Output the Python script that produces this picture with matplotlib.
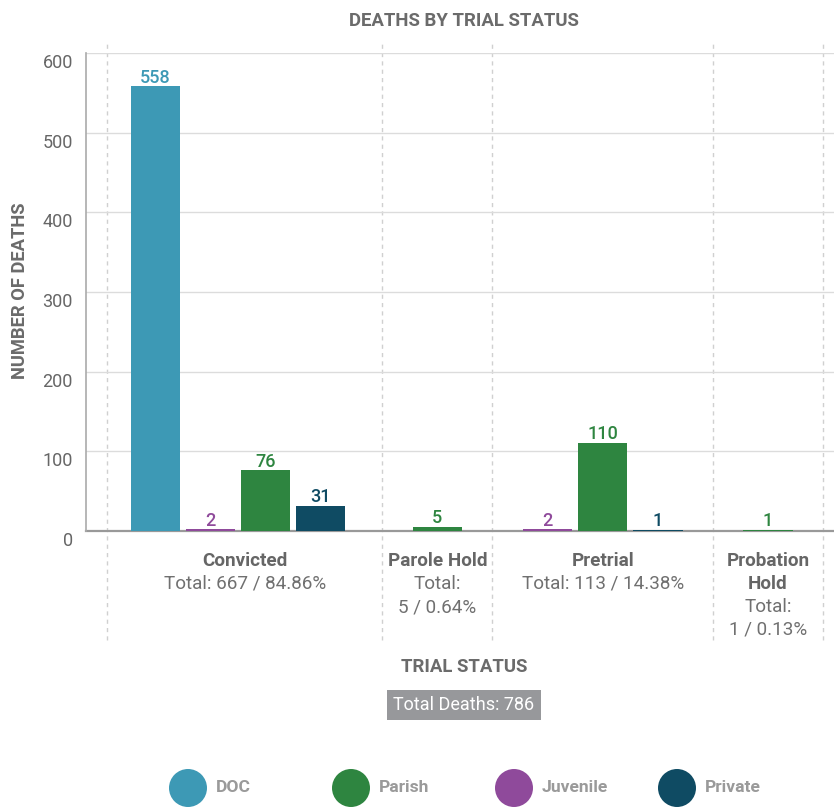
import matplotlib
matplotlib.use("Agg")
import matplotlib.pyplot as plt
from matplotlib.patches import Ellipse
from matplotlib.transforms import ScaledTranslation, blended_transform_factory
from matplotlib.font_manager import FontProperties

plt.rcParams['font.family'] = ['Roboto', 'DejaVu Sans']

# ---- data ----
categories = ["Convicted", "Parole Hold", "Pretrial", "Probation Hold"]
series_names = ["DOC", "Juvenile", "Parish", "Private"]      # bar order within a group
legend_order = ["DOC", "Parish", "Juvenile", "Private"]
doc = [558, 0, 0, 0]
juvenile = [2, 0, 2, 0]
parish = [76, 5, 110, 1]
private = [31, 0, 1, 0]
series_values = {"DOC": doc, "Juvenile": juvenile, "Parish": parish, "Private": private}
colors = {"DOC": "#3d99b5", "Parish": "#2e8540", "Juvenile": "#8f4a9b", "Private": "#0f4b63"}
y_ticks = [0, 100, 200, 300, 400, 500, 600]

totals = [sum(series_values[s][i] for s in series_names) for i in range(len(categories))]
grand_total = sum(totals)

W, H = 834, 808
fig = plt.figure(figsize=(W / 100, H / 100), dpi=100)
ax_left, ax_right, ax_top, ax_zero = 86, 834, 53, 531
ax = fig.add_axes([ax_left / W, (H - ax_zero) / H, (ax_right - ax_left) / W, (ax_zero - ax_top) / H])

# each category gets one slot per non-zero series plus one slot of padding
bands = []
left = 0.0
for i in range(len(categories)):
    active = [s for s in series_names if series_values[s][i] > 0]
    width = len(active) + 1
    bands.append((left, width, active))
    left += width
total_slots = left

ax.set_xlim(-0.38, total_slots + 0.2)
ax.set_ylim(0, 600)

bar_w = 0.9
for i, (bl, bw, active) in enumerate(bands):
    center = bl + bw / 2 - (0.12 if len(active) > 3 else 0.0)
    n = len(active)
    for j, s in enumerate(active):
        x = center + (j - (n - 1) / 2)
        v = series_values[s][i]
        ax.bar(x, v, width=bar_w, color=colors[s], zorder=3)
        ax.annotate(str(v), (x, v), xytext=(0, 2.8), textcoords="offset points",
                    ha="center", va="baseline", color=colors[s], fontsize=13,
                    fontweight="medium", zorder=4)

# axes styling
ax.set_yticks(y_ticks)
ax.set_xticks([])
ax.tick_params(axis="y", length=0, pad=9.5, labelsize=13, labelcolor="#666666")
offset = ScaledTranslation(0, -8 / 100, fig.dpi_scale_trans)
for lab in ax.get_yticklabels():
    lab.set_transform(lab.get_transform() + offset)
ax.yaxis.grid(True, color="#dcdcdc", linewidth=1, zorder=0)
for side in ("top", "right"):
    ax.spines[side].set_visible(False)
ax.spines["left"].set_color("#aaaaaa")
ax.spines["left"].set_linewidth(1.2)
ax.spines["bottom"].set_color("#999999")
ax.spines["bottom"].set_linewidth(1.6)
ax.spines["bottom"].set_zorder(2)

# dashed category dividers extending above and below the plot area
ph = ax_zero - ax_top
tr = blended_transform_factory(ax.transData, ax.transAxes)
y_top = (ax_zero - 40) / ph
y_bot = (ax_zero - 640) / ph
edges = [b[0] for b in bands] + [total_slots]
for e in edges:
    ax.plot([e, e], [y_bot, y_top], transform=tr, color="#d0d0d0", lw=1,
            linestyle=(0, (3, 3)), clip_on=False, zorder=1)

# category labels, wrapped to the band width
renderer = fig.canvas.get_renderer()
px_per_slot = (ax_right - ax_left) / (ax.get_xlim()[1] - ax.get_xlim()[0])
name_fp = FontProperties(family=['Roboto', 'DejaVu Sans'], weight='bold', size=13.6)
tot_fp = FontProperties(family=['Roboto', 'DejaVu Sans'], size=13.6)


def wrap(units, fp, max_px):
    lines, cur = [], ""
    for u in units:
        trial = u if not cur else cur + " " + u
        w, _, _ = renderer.get_text_width_height_descent(trial, fp, ismath=False)
        if cur and w > max_px:
            lines.append(cur)
            cur = u
        else:
            cur = trial
    if cur:
        lines.append(cur)
    return lines


for i, (bl, bw, active) in enumerate(bands):
    max_px = bw * px_per_slot
    pct = totals[i] / grand_total * 100
    name_lines = wrap(categories[i].split(" "), name_fp, max_px)
    tot_lines = wrap(["Total:", f"{totals[i]} / {pct:.2f}%"], tot_fp, max_px)
    k = 0
    for ln in name_lines:
        ypix = 566 + 23 * k
        ax.text(bl + bw / 2, (ax_zero - ypix) / ph, ln, transform=tr, ha="center",
                va="baseline", fontproperties=name_fp, color="#666666")
        k += 1
    for ln in tot_lines:
        ypix = 566 + 23 * k
        ax.text(bl + bw / 2, (ax_zero - ypix) / ph, ln, transform=tr, ha="center",
                va="baseline", fontproperties=tot_fp, color="#707070")
        k += 1

# titles
fig.text(464 / W, 1 - 26 / H, "DEATHS BY TRIAL STATUS", ha="center", va="baseline",
         fontsize=13.4, fontweight="bold", color="#6b6b6b")
fig.text(20 / W, 1 - 291 / H, "NUMBER OF DEATHS", ha="center", va="center",
         rotation=90, fontsize=13.2, fontweight="bold", color="#6b6b6b")
fig.text(464 / W, 1 - 672 / H, "TRIAL STATUS", ha="center", va="baseline",
         fontsize=13.4, fontweight="bold", color="#6b6b6b")
fig.text(464 / W, 1 - 705 / H, f"Total Deaths: {grand_total}", ha="center", va="center",
         fontsize=13, color="white",
         bbox=dict(boxstyle="square,pad=0.34", facecolor="#97989b", edgecolor="none"))

# legend
leg_x0, leg_dx, leg_y, r = 188, 163, 788, 19
for k, s in enumerate(legend_order):
    cx = leg_x0 + k * leg_dx
    fig.add_artist(Ellipse((cx / W, 1 - leg_y / H), 2 * r / W, 2 * r / H,
                           transform=fig.transFigure, facecolor=colors[s], edgecolor="none"))
    fig.text((cx + 28) / W, 1 - leg_y / H, s, ha="left", va="center",
             fontsize=12.6, fontweight="bold", color="#9a9a9a")

fig.savefig("out.png", dpi=100)
